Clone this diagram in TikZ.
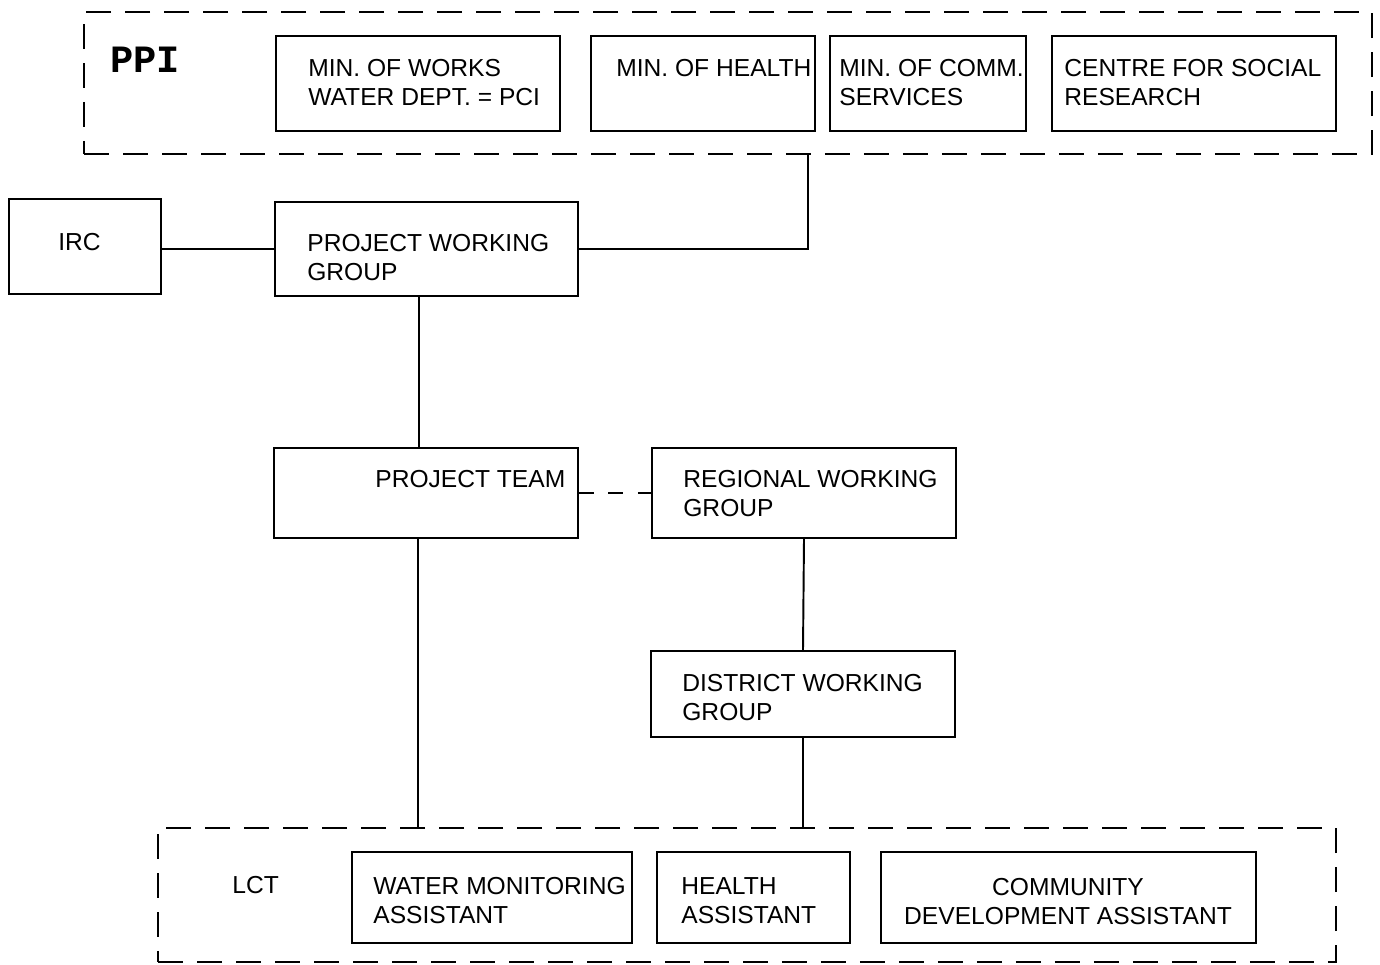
\documentclass[tikz,border=0pt]{standalone}
\usepackage{fontspec}
\setmainfont{Liberation Sans}
\setmonofont{Liberation Mono}
\usepackage{xcolor}
\usepackage{tikz}
\usetikzlibrary{positioning}

\begin{document}
\begin{tikzpicture}[x=0.02cm, y=-0.02cm]
						\tikzstyle{unit}=[draw=black, line width=1.1pt, inner sep=0pt]
						\tikzstyle{group}=[unit, dash pattern=on 0.5cm off 0.28cm]
						\tikzstyle{caption}=[inner sep=0pt, align=left, font=\fontsize{14}{16.5}\selectfont]
						\useasboundingbox (0,0) rectangle (1380,964);
						% dashed groups
						\node[group, minimum width=25.76cm, minimum height=2.84cm](ppi) at (728,83) {};
						\node[group, minimum width=23.56cm, minimum height=2.68cm](lct) at (747,895) {};
						\node[caption, anchor=north west, font=\fontsize{22}{24}\selectfont\ttfamily\bfseries](ppitext) at (110,47) {PPI};
						\node[caption, anchor=north west](lcttext) at (232,876) {LCT};
						% ministries
						\node[unit, minimum width=5.68cm, minimum height=1.9cm](works) at (418,83.5) {};
						\node[unit, minimum width=4.48cm, minimum height=1.9cm](health) at (703,83.5) {};
						\node[unit, minimum width=3.92cm, minimum height=1.9cm](comm) at (928,83.5) {};
						\node[unit, minimum width=5.68cm, minimum height=1.9cm](centre) at (1194,83.5) {};
						\node[caption, anchor=north west](workstext) at (308,59) {MIN. OF WORKS\\WATER DEPT. = PCI};
						\node[caption, anchor=north west](healthtext) at (616,59) {MIN. OF HEALTH};
						\node[caption, anchor=north west](commtext) at (839,59) {MIN. OF COMM.\\SERVICES};
						\node[caption, anchor=north west](centretext) at (1064,59) {CENTRE FOR SOCIAL\\RESEARCH};
						% working groups
						\node[unit, minimum width=3.04cm, minimum height=1.9cm](irc) at (85,246.5) {};
						\node[unit, minimum width=6.06cm, minimum height=1.88cm](pwg) at (426.5,249) {};
						\node[unit, minimum width=6.08cm, minimum height=1.8cm](team) at (426,493) {};
						\node[unit, minimum width=6.08cm, minimum height=1.8cm](rwg) at (804,493) {};
						\node[unit, minimum width=6.08cm, minimum height=1.72cm](dwg) at (803,694) {};
						\node[caption, anchor=north west](irctext) at (58,233) {IRC};
						\node[caption, anchor=north west](pwgtext) at (307,234) {PROJECT WORKING\\GROUP};
						\node[caption, anchor=north west](teamtext) at (375,470) {PROJECT TEAM};
						\node[caption, anchor=north west](rwgtext) at (683,470) {REGIONAL WORKING\\GROUP};
						\node[caption, anchor=north west](dwgtext) at (682,674) {DISTRICT WORKING\\GROUP};
						% assistants
						\node[unit, minimum width=5.6cm, minimum height=1.82cm](wma) at (492,897.5) {};
						\node[unit, minimum width=3.86cm, minimum height=1.82cm](ha) at (753.5,897.5) {};
						\node[unit, minimum width=7.5cm, minimum height=1.82cm](cda) at (1068.5,897.5) {};
						\node[caption, anchor=north west](wmatext) at (373,877) {WATER MONITORING\\ASSISTANT};
						\node[caption, anchor=north west](hatext) at (681,877) {HEALTH\\ASSISTANT};
						\node[caption, anchor=north, align=center](cdatext) at (1068,878) {COMMUNITY\\DEVELOPMENT ASSISTANT};
						% links
						\coordinate (ppijoin) at (808,154);
						\coordinate (pwgfoot) at (419,296);
						\coordinate (teamfoot) at (418,538);
						\draw[line width=1.1pt] (pwg.east) -| (ppijoin);
						\path[-, line width=1.1pt]
							(irc.east |- pwg.west) edge node {}(pwg.west)
							(pwgfoot) edge node {}(pwgfoot |- team.north)
							(rwg.south) edge node {}(dwg.north)
							(teamfoot) edge node {}(teamfoot |- lct.north)
							(dwg.south) edge node {}(dwg.south |- lct.north)
							(team.east) edge[dash pattern=on 0.3cm off 0.29cm] node {}(rwg.west);
					\end{tikzpicture}
\end{document}
